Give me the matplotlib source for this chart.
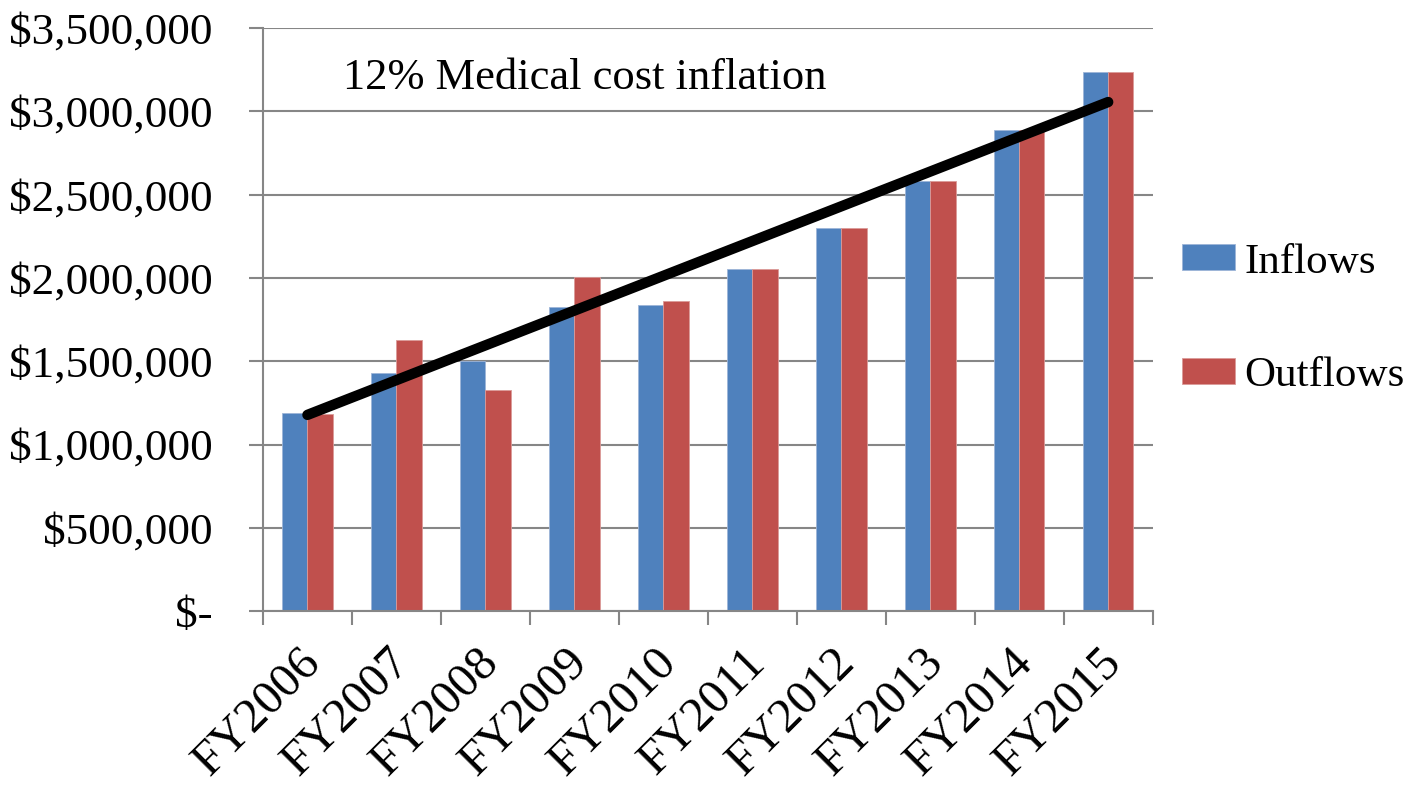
import numpy as np
import matplotlib.pyplot as plt
from matplotlib.ticker import FuncFormatter

plt.rcParams['font.family'] = ['Liberation Serif', 'DejaVu Serif']

years = ['FY2006', 'FY2007', 'FY2008', 'FY2009', 'FY2010',
         'FY2011', 'FY2012', 'FY2013', 'FY2014', 'FY2015']
inflows = [1190000, 1432000, 1504000, 1828000, 1840000,
           2055000, 2302000, 2579000, 2890000, 3239000]
outflows = [1185000, 1630000, 1330000, 2008000, 1860000,
            2055000, 2302000, 2579000, 2890000, 3239000]

# hand-drawn trend line: start at FY2006, end at FY2015
trend_idx = [0, 9]
trend_values = [1178000, 3056000]

blue = '#4F81BD'
red = '#C0504D'
grid_c = '#868686'

fig = plt.figure(figsize=(14.1, 8.02), dpi=100)
ax = fig.add_axes([0.1865, 0.238, 0.631, 0.727])

x = np.arange(len(years))
w = 0.284
ax.bar(x - w/2, inflows, w, color=blue, edgecolor='#9DB5D8', linewidth=0.6,
       label='Inflows', zorder=2)
ax.bar(x + w/2, outflows, w, color=red, edgecolor='#DB9A98', linewidth=0.6,
       label='Outflows', zorder=2)

ax.plot(trend_idx, trend_values, color='black', linewidth=7.5,
        solid_capstyle='round', zorder=3)

ax.text(0.4, 3200000, '12% Medical cost inflation', fontsize=32,
        va='center', ha='left')

ax.set_xlim(-0.5, 9.5)
ax.set_ylim(0, 3500000)
ax.set_yticks(np.arange(0, 3500001, 500000))
ax.yaxis.set_major_formatter(FuncFormatter(
    lambda v, p: '$-' if v == 0 else '${:,.0f}'.format(v)))
ax.grid(axis='y', color=grid_c, linewidth=1.5, zorder=0)
ax.set_axisbelow(True)

# boundary ticks (major) and category labels (minor, no tick mark)
ax.set_xticks(np.arange(-0.5, 10, 1))
ax.set_xticklabels([])
ax.set_xticks(x - 0.1, minor=True)
ax.set_xticklabels(years, minor=True, rotation=45, ha='right',
                   rotation_mode='anchor', fontsize=35)
ax.tick_params(axis='x', which='minor', length=0, pad=21)
ax.tick_params(axis='x', which='major', length=10, width=1.5, color=grid_c)
ax.tick_params(axis='y', length=10, width=1.5, color=grid_c, pad=26,
               labelsize=32.5)

for s in ['top', 'right']:
    ax.spines[s].set_visible(False)
for s in ['left', 'bottom']:
    ax.spines[s].set_color(grid_c)
    ax.spines[s].set_linewidth(1.5)

ax.legend(loc='center left', bbox_to_anchor=(0.838, 0.602),
          bbox_transform=fig.transFigure, frameon=False, fontsize=31,
          handlelength=1.25, handleheight=0.55, handletextpad=0.2,
          labelspacing=1.75, borderpad=0, borderaxespad=0)

fig.savefig('out.png', dpi=100)
